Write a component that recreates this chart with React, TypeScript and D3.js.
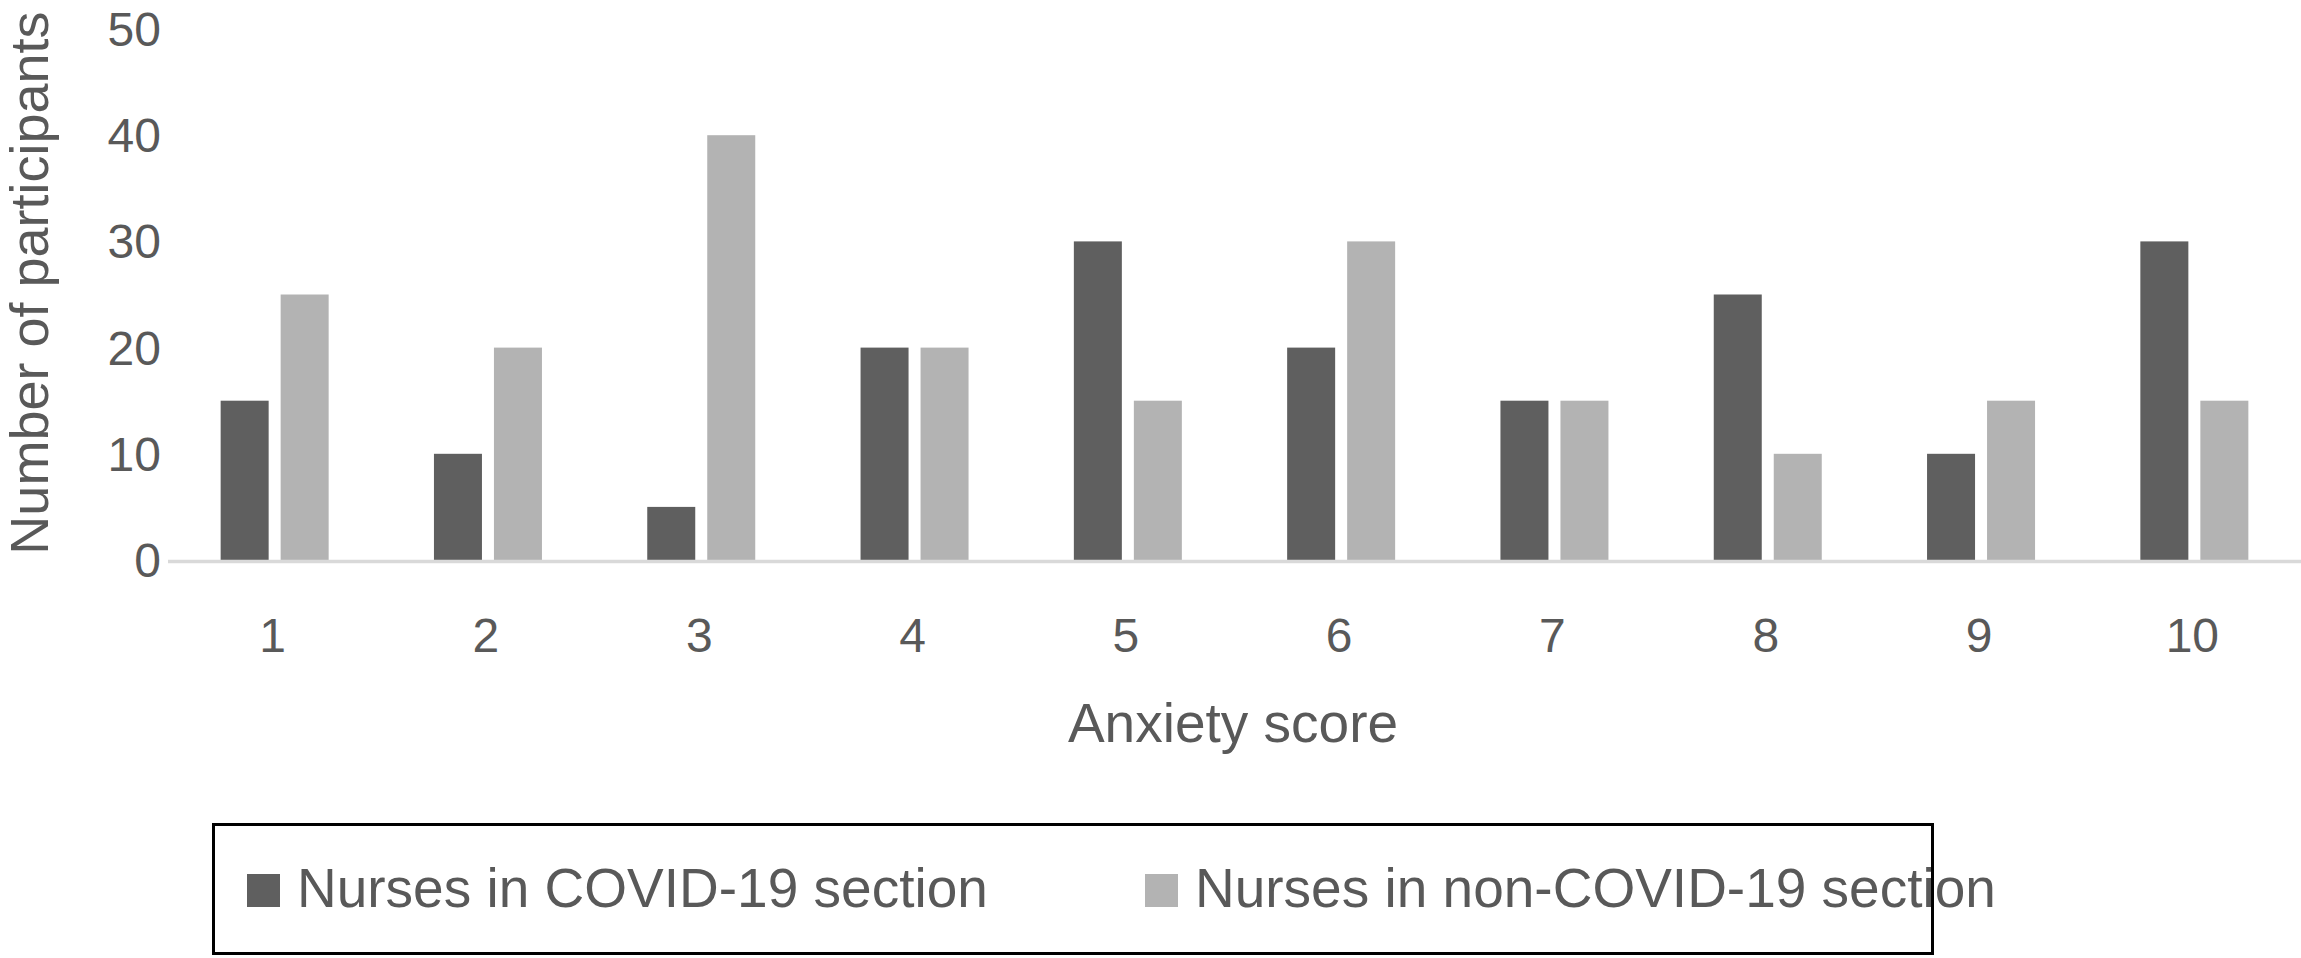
import { scaleBand, scaleLinear } from "d3";

const scores = ["1", "2", "3", "4", "5", "6", "7", "8", "9", "10"];
const covidNurses = [15, 10, 5, 20, 30, 20, 15, 25, 10, 30];
const nonCovidNurses = [25, 20, 40, 20, 15, 30, 15, 10, 15, 15];
const seriesNames = ["Nurses in COVID-19 section", "Nurses in non-COVID-19 section"];
const seriesColors = ["#5f5f5f", "#b3b3b3"];
const yTicks = [0, 10, 20, 30, 40, 50];

const width = 2301;
const height = 958;
const plot = { left: 168, right: 2301, top: 29, bottom: 560 };
const textColor = "#595959";
const font = "'Liberation Sans', Arial, Helvetica, sans-serif";

export default function App() {
  const x = scaleBand<string>()
    .domain(scores)
    .range([plot.left, plot.right])
    .padding(0);

  const y = scaleLinear().domain([0, 50]).range([plot.bottom, plot.top]);

  const groupWidth = 108;
  const inner = scaleBand<number>()
    .domain([0, 1])
    .range([-groupWidth / 2, groupWidth / 2])
    .paddingInner(0.2)
    .paddingOuter(0);

  const series = [covidNurses, nonCovidNurses];

  return (
    <svg
      width={width}
      height={height}
      viewBox={`0 0 ${width} ${height}`}
      style={{ position: "absolute", left: 0, top: 0, background: "#fff" }}
      fontFamily={font}
    >
      <rect x={0} y={0} width={width} height={height} fill="#fff" />

      {/* y tick labels */}
      <g fill={textColor} fontSize={48} textAnchor="end">
        {yTicks.map((t) => (
          <text key={`y-${t}`} x={161} y={y(t) + 17}>
            {t}
          </text>
        ))}
      </g>

      {/* bars */}
      {series.map((values, si) => (
        <g key={`s-${si}`} fill={seriesColors[si]}>
          {values.map((v, i) => {
            const cx = (x(scores[i]) ?? 0) + x.bandwidth() / 2;
            return (
              <rect
                key={`b-${si}-${i}`}
                x={cx + (inner(si) ?? 0)}
                y={y(v)}
                width={inner.bandwidth()}
                height={y(0) - y(v)}
              />
            );
          })}
        </g>
      ))}

      {/* x axis line */}
      <line
        x1={plot.left}
        x2={plot.right}
        y1={y(0) + 1.5}
        y2={y(0) + 1.5}
        stroke="#d9d9d9"
        strokeWidth={3.5}
      />

      {/* x tick labels */}
      <g fill={textColor} fontSize={48} textAnchor="middle">
        {scores.map((s) => (
          <text key={`x-${s}`} x={(x(s) ?? 0) + x.bandwidth() / 2 - 2} y={652}>
            {s}
          </text>
        ))}
      </g>

      {/* axis titles */}
      <text
        x={1233}
        y={742}
        fill={textColor}
        fontSize={55}
        textAnchor="middle"
      >
        Anxiety score
      </text>
      <text
        transform="translate(48, 283) rotate(-90)"
        fill={textColor}
        fontSize={54}
        textAnchor="middle"
      >
        Number of participants
      </text>

      {/* legend */}
      <rect
        x={213.5}
        y={824.5}
        width={1719}
        height={129}
        fill="none"
        stroke="#000"
        strokeWidth={3}
      />
      {seriesNames.map((name, i) => {
        const lx = [247, 1145][i];
        return (
          <g key={`l-${i}`}>
            <rect x={lx} y={874} width={33} height={33} fill={seriesColors[i]} />
            <text x={lx + 50} y={907} fill={textColor} fontSize={55}>
              {name}
            </text>
          </g>
        );
      })}
    </svg>
  );
}
